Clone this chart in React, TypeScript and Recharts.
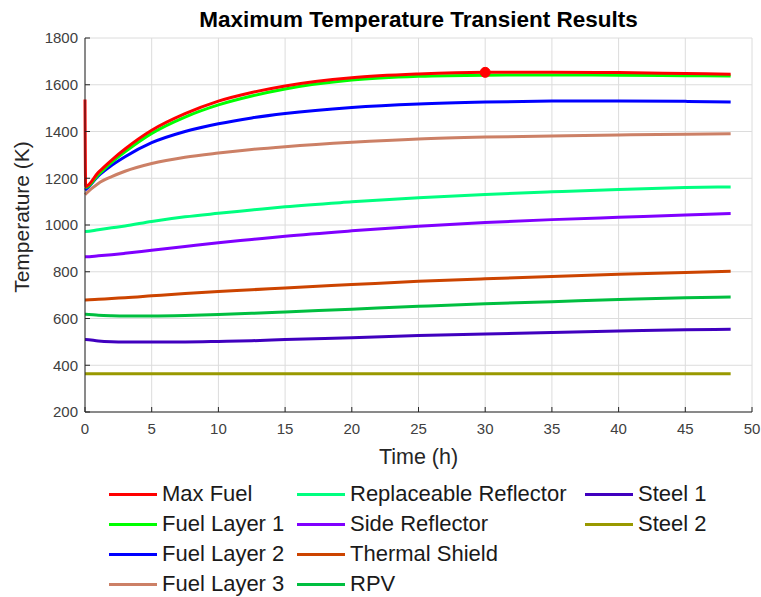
import React from 'react';
import { LineChart, Line, XAxis, YAxis, CartesianGrid, ReferenceDot, Label } from 'recharts';

// time in hours
const time = [0, 0.05, 1, 2, 3, 5, 7.5, 10, 12.5, 15, 20, 25, 30, 35, 40, 45, 48.4];

const maxFuel = [1537, 1165, 1225, 1278, 1325, 1405, 1476, 1530, 1567, 1595, 1630, 1646, 1653, 1653, 1652, 1648, 1645];
const fuelLayer1 = [1160, 1160, 1215, 1268, 1313, 1392, 1462, 1514, 1552, 1582, 1620, 1636, 1641, 1642, 1641, 1639, 1637];
const fuelLayer2 = [1150, 1152, 1210, 1255, 1292, 1352, 1400, 1433, 1458, 1477, 1503, 1518, 1526, 1530, 1531, 1529, 1526];
const fuelLayer3 = [1130, 1133, 1178, 1207, 1230, 1263, 1290, 1308, 1323, 1335, 1354, 1368, 1376, 1381, 1385, 1388, 1390];
const replReflector = [972, 972, 980, 988, 996, 1015, 1035, 1050, 1064, 1078, 1099, 1117, 1131, 1142, 1152, 1160, 1163];
const sideReflector = [864, 864, 868, 873, 879, 892, 908, 924, 938, 952, 975, 995, 1011, 1023, 1033, 1043, 1049];
const thermalShield = [679, 679, 682, 686, 689, 697, 707, 716, 723, 731, 745, 759, 770, 780, 789, 797, 802];
const rpv = [618, 618, 614, 612, 611, 611, 613, 617, 622, 628, 640, 652, 663, 672, 681, 689, 692];
const steel1 = [510, 510, 504, 501, 500, 500, 500, 502, 505, 510, 518, 527, 534, 540, 546, 552, 554];
const steel2 = [364, 364, 364, 364, 364, 364, 364, 364, 364, 364, 364, 364, 364, 364, 364, 364, 364];

// peak of the max fuel curve
const peakTime = 30;
const peakTemp = 1653;

const xTicks = [0, 5, 10, 15, 20, 25, 30, 35, 40, 45, 50];
const yTicks = [200, 400, 600, 800, 1000, 1200, 1400, 1600, 1800];

const series = [
  { key: 'maxFuel', name: 'Max Fuel', color: '#ff0000', values: maxFuel },
  { key: 'fuelLayer1', name: 'Fuel Layer 1', color: '#00ff00', values: fuelLayer1 },
  { key: 'fuelLayer2', name: 'Fuel Layer 2', color: '#0000ff', values: fuelLayer2 },
  { key: 'fuelLayer3', name: 'Fuel Layer 3', color: '#cc8066', values: fuelLayer3 },
  { key: 'replReflector', name: 'Replaceable Reflector', color: '#00ff80', values: replReflector },
  { key: 'sideReflector', name: 'Side Reflector', color: '#8000ff', values: sideReflector },
  { key: 'thermalShield', name: 'Thermal Shield', color: '#cc4400', values: thermalShield },
  { key: 'rpv', name: 'RPV', color: '#00bf40', values: rpv },
  { key: 'steel1', name: 'Steel 1', color: '#4000bf', values: steel1 },
  { key: 'steel2', name: 'Steel 2', color: '#999900', values: steel2 },
];

const data = time.map((t, i) => {
  const row: Record<string, number> = { t };
  series.forEach(s => { row[s.key] = s.values[i]; });
  return row;
});

const FONT = '"Liberation Sans", Arial, Helvetica, sans-serif';

// legend laid out column by column, 4 rows each
const LEGEND_COLS = [109, 297, 585];
const LEGEND_ROWS = [494, 524, 554, 584];

const LegendGrid = () => (
  <>
    {series.map((s, i) => {
      const col = Math.floor(i / 4);
      const row = i % 4;
      return (
        <div
          key={s.key}
          style={{
            position: 'absolute',
            left: LEGEND_COLS[col],
            top: LEGEND_ROWS[row] - 15,
            height: 30,
            display: 'flex',
            alignItems: 'center',
            whiteSpace: 'nowrap',
          }}
        >
          <div style={{ width: 48, height: 3, background: s.color }} />
          <span style={{ marginLeft: 5, fontSize: 22, color: '#1a1a1a' }}>{s.name}</span>
        </div>
      );
    })}
  </>
);

const YTitle = (props: any) => {
  const { viewBox } = props;
  const cy = viewBox.y + viewBox.height / 2 - 8;
  return (
    <text x={29} y={cy} transform={`rotate(-90, 29, ${cy})`} textAnchor="middle" fontSize={21} fill="#262626">
      Temperature (K)
    </text>
  );
};

export default function App() {
  return (
    <div style={{ position: 'absolute', left: 0, top: 0, width: 761, height: 597, background: '#fff', fontFamily: FONT }}>
      <div
        style={{
          position: 'absolute',
          left: 85,
          width: 667,
          top: 8,
          textAlign: 'center',
          fontSize: 22.5,
          lineHeight: '23px',
          fontWeight: 'bold',
          color: '#000',
        }}
      >
        Maximum Temperature Transient Results
      </div>
      <LineChart width={761} height={597} data={data} margin={{ top: 38, right: 9, bottom: 125, left: 0 }}>
        <CartesianGrid stroke="#dcdcdc" strokeWidth={1} horizontalValues={yTicks} verticalValues={xTicks} />
        <XAxis
          dataKey="t"
          type="number"
          domain={[0, 50]}
          ticks={xTicks}
          height={60}
          stroke="#262626"
          tickSize={-5}
          tickMargin={16}
          tick={{ fontSize: 15, fill: '#404040' }}
        >
          <Label value="Time (h)" position="insideBottom" offset={8} fontSize={21.5} fill="#262626" />
        </XAxis>
        <YAxis
          type="number"
          domain={[200, 1800]}
          ticks={yTicks}
          width={85}
          stroke="#262626"
          tickSize={-5}
          tickMargin={12}
          tick={{ fontSize: 15, fill: '#404040' }}
          allowDataOverflow
        >
          <Label content={<YTitle />} />
        </YAxis>
        {series
          .slice()
          .reverse()
          .map(s => (
            <Line
              key={s.key}
              type="monotone"
              dataKey={s.key}
              name={s.name}
              stroke={s.color}
              strokeWidth={3}
              dot={false}
              isAnimationActive={false}
            />
          ))}
        <ReferenceDot x={peakTime} y={peakTemp} r={5} fill="#ff0000" stroke="#ff0000" />
      </LineChart>
      <LegendGrid />
    </div>
  );
}
